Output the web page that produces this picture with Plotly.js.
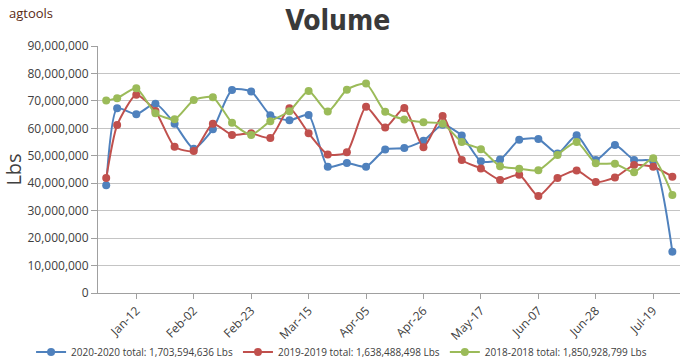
<!DOCTYPE html>
<html>
<head>
<meta charset="utf-8">
<script src="https://cdn.plot.ly/plotly-3.0.1.min.js"></script>
<style>
html, body { margin: 0; padding: 0; background: #ffffff; }
#chart { width: 688px; height: 360px; }
</style>
</head>
<body>
<div id="chart"></div>
<script>
// Week dates (x categories)
const weeks = [
  '2020-01-01', '2020-01-05', '2020-01-12', '2020-01-19', '2020-01-26',
  '2020-02-02', '2020-02-09', '2020-02-16', '2020-02-23', '2020-03-01',
  '2020-03-08', '2020-03-15', '2020-03-22', '2020-03-29', '2020-04-05',
  '2020-04-12', '2020-04-19', '2020-04-26', '2020-05-03', '2020-05-10',
  '2020-05-17', '2020-05-24', '2020-05-31', '2020-06-07', '2020-06-14',
  '2020-06-21', '2020-06-28', '2020-07-05', '2020-07-12', '2020-07-19',
  '2020-07-26'
];

// Weekly volume, Lbs
const vol2020 = [
  39300000, 67300000, 65100000, 69000000, 61700000, 52600000, 59700000, 74000000,
  73400000, 64800000, 62900000, 64900000, 46000000, 47400000, 46000000, 52300000,
  52800000, 55500000, 61300000, 57400000, 48000000, 48600000, 55800000, 56100000,
  50800000, 57500000, 48500000, 53900000, 48500000, 48000000, 15000000
];
const vol2019 = [
  41900000, 61200000, 72200000, 66300000, 53300000, 51700000, 61700000, 57600000,
  58200000, 56500000, 67300000, 58200000, 50500000, 51300000, 67900000, 60300000,
  67400000, 53100000, 64500000, 48500000, 45400000, 41200000, 43100000, 35300000,
  41900000, 44600000, 40400000, 42100000, 46600000, 46000000, 42400000
];
const vol2018 = [
  70100000, 71000000, 74600000, 65500000, 63300000, 70300000, 71300000, 62000000,
  57600000, 62600000, 66200000, 73600000, 66100000, 74100000, 76300000, 66000000,
  63200000, 62200000, 61700000, 55000000, 52400000, 46200000, 45300000, 44700000,
  50300000, 55000000, 47300000, 47100000, 44000000, 49100000, 35700000
];

const seriesNames = [
  '2020-2020 total: 1,703,594,636 Lbs',
  '2019-2019 total: 1,638,488,498 Lbs',
  '2018-2018 total: 1,850,928,799 Lbs'
];
const seriesColors = ['#4f81bd', '#c0504d', '#9bbb59'];
const seriesValues = [vol2020, vol2019, vol2018];

const traces = seriesValues.map((vals, i) => ({
  type: 'scatter',
  mode: 'lines+markers',
  x: weeks,
  y: vals,
  name: seriesNames[i],
  line: { color: seriesColors[i], width: 2, shape: 'spline', smoothing: 0.6 },
  marker: { color: seriesColors[i], size: 8 }
}));

const axisFont = { family: 'Open Sans', size: 12, color: '#404040' };

const layout = {
  width: 688,
  height: 360,
  margin: { l: 98, r: 8, t: 46, b: 67, autoexpand: false },
  paper_bgcolor: '#ffffff',
  plot_bgcolor: '#ffffff',
  title: {
    text: 'Volume',
    font: { family: '"DejaVu Sans Condensed", "DejaVu Sans", sans-serif', size: 28, weight: 'bold', color: '#3a3a3a' },
    xref: 'container', x: 0.491, xanchor: 'center',
    yref: 'container', y: 0.944, yanchor: 'middle'
  },
  annotations: [{
    text: 'agtools',
    xref: 'paper', yref: 'paper',
    x: -0.156, y: 1.134, xanchor: 'left', yanchor: 'middle',
    showarrow: false,
    font: { family: 'Open Sans', size: 13, color: '#5a2a14' }
  }],
  xaxis: {
    type: 'date',
    range: ['2019-12-29', '2020-07-28 19:00'],
    tick0: '2020-01-12',
    dtick: 21 * 86400000,
    tickformat: '%b-%d',
    tickangle: -45,
    ticks: 'outside',
    ticklen: 5,
    tickcolor: '#a0a0a0',
    showgrid: false,
    showline: true,
    linecolor: '#a0a0a0',
    zeroline: false,
    tickfont: axisFont
  },
  yaxis: {
    range: [0, 90000000],
    dtick: 10000000,
    tickformat: ',',
    ticks: 'outside',
    ticklen: 6,
    tickcolor: '#a0a0a0',
    showline: true,
    linecolor: '#a0a0a0',
    gridcolor: '#c4c4c4',
    zeroline: false,
    tickfont: axisFont,
    title: { text: 'Lbs', font: { family: 'Open Sans', size: 20, color: '#404040' }, standoff: 8 }
  },
  showlegend: true,
  legend: {
    orientation: 'h',
    xref: 'paper', x: -0.115, xanchor: 'left',
    yref: 'paper', y: -0.239, yanchor: 'middle',
    font: { family: 'Open Sans', size: 10, color: '#404040' },
    bgcolor: 'rgba(0,0,0,0)',
    traceorder: 'normal'
  }
};

Plotly.newPlot('chart', traces, layout, { staticPlot: true, displayModeBar: false });
</script>
</body>
</html>
